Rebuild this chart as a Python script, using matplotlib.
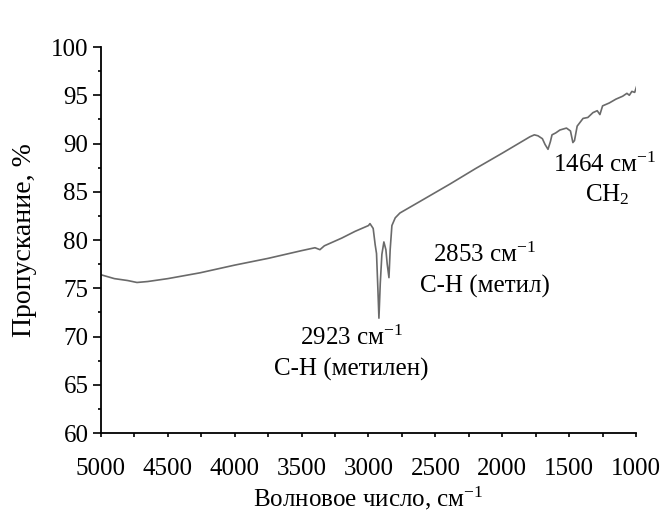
import matplotlib
matplotlib.use("Agg")
import matplotlib.pyplot as plt
from matplotlib.ticker import MultipleLocator

plt.rcParams['font.family'] = ['Liberation Serif', 'DejaVu Serif']
plt.rcParams['mathtext.fontset'] = 'custom'
plt.rcParams['mathtext.rm'] = 'Liberation Serif'
plt.rcParams['mathtext.it'] = 'Liberation Serif:italic'

wavenumber = [5000, 4900, 4800, 4731, 4650, 4500, 4260, 4000, 3750, 3500, 3400, 3363, 3330,
              3200, 3100, 3000, 2989, 2965, 2950, 2940, 2930, 2922, 2912, 2900, 2885, 2870,
              2860, 2847, 2838, 2825, 2800, 2765, 2615, 2391, 2200, 2000, 1793, 1760, 1733,
              1700, 1680, 1658, 1640, 1628, 1600, 1569, 1520, 1490, 1472, 1460, 1440, 1396,
              1360, 1322, 1290, 1270, 1250, 1200, 1150, 1100, 1068, 1050, 1031, 1010, 996]
transmittance = [76.4, 76.0, 75.8, 75.6, 75.7, 76.0, 76.6, 77.4, 78.1, 78.9, 79.2, 79.0, 79.4,
                 80.2, 80.9, 81.5, 81.7, 81.2, 79.5, 78.6, 75.0, 71.9, 75.5, 78.5, 79.8, 79.0,
                 77.5, 76.1, 79.0, 81.5, 82.3, 82.8, 84.0, 85.8, 87.4, 89.0, 90.7, 90.9, 90.8,
                 90.5, 89.9, 89.4, 90.2, 90.9, 91.1, 91.4, 91.6, 91.3, 90.1, 90.3, 91.8, 92.6,
                 92.7, 93.2, 93.4, 93.0, 93.9, 94.2, 94.6, 94.9, 95.2, 95.0, 95.4, 95.3, 95.9]

annotations = [
    (3130, 69.9, "2923 см$^{-1}$"), (3130, 66.6, "С-Н (метилен)"),
    (2130, 78.5, "2853 см$^{-1}$"), (2130, 75.2, "С-Н (метил)"),
    (1232, 87.8, "1464 см$^{-1}$"), (1212, 84.7, "CH$_2$"),
]

fig = plt.figure(figsize=(6.63, 5.11), dpi=100)
ax = fig.add_axes([0.1523, 0.1526, 0.807, 0.7554])
ax.plot(wavenumber, transmittance, color='#6a6a6a', lw=1.2)

ax.set_xlim(5000, 1000)
ax.set_ylim(60, 100)
ax.xaxis.set_major_locator(MultipleLocator(500))
ax.xaxis.set_minor_locator(MultipleLocator(250))
ax.yaxis.set_major_locator(MultipleLocator(5))
ax.yaxis.set_minor_locator(MultipleLocator(2.5))
for s in ['top', 'right']:
    ax.spines[s].set_visible(False)
for s in ['left', 'bottom']:
    ax.spines[s].set_linewidth(1.3)
ax.tick_params(axis='y', which='major', direction='out', length=6, width=1.2, labelsize=18, pad=3)
ax.tick_params(axis='y', which='minor', direction='out', length=2.5, width=1.2)
ax.tick_params(axis='x', which='both', direction='out', length=3, width=1.2, labelsize=18, pad=15)

ax.set_xlabel("Волновое число, см$^{-1}$", fontsize=18, labelpad=3)
ax.set_ylabel("Пропускание, %", fontsize=20, labelpad=10)

for x, y, t in annotations:
    ax.text(x, y, t, fontsize=18, ha='center', va='center')

fig.savefig("out.png", dpi=100, facecolor='white')
